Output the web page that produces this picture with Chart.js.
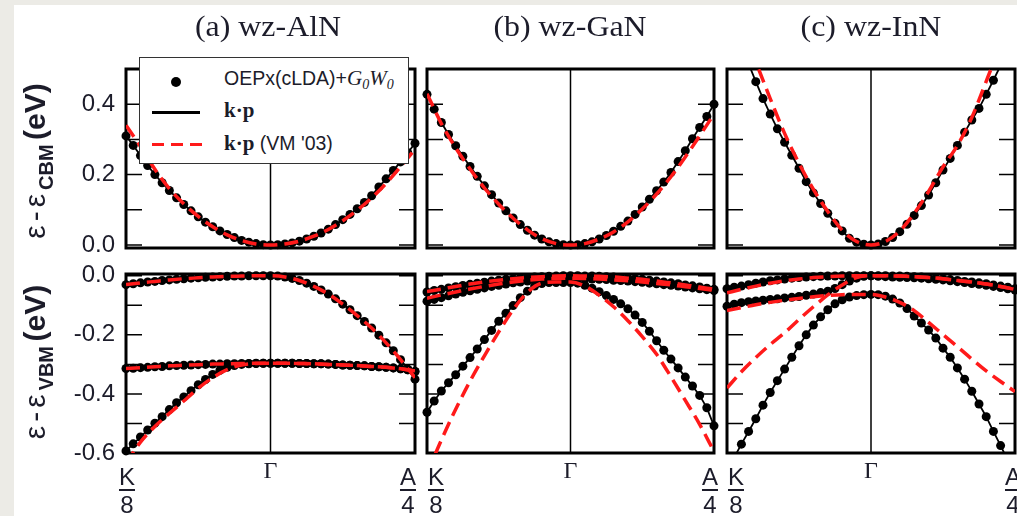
<!DOCTYPE html>
<html><head><meta charset="utf-8">
<script src="https://cdn.jsdelivr.net/npm/chart.js@4.4.1/dist/chart.umd.min.js"></script>
<style>
html,body{margin:0;padding:0}
body{width:1017px;height:516px;position:relative;overflow:hidden;background:#ecebe6}
#paper{position:absolute;left:14px;top:5px;width:1003px;height:511px;background:#fff}
canvas{position:absolute}
.ttl{position:absolute;top:8px;font-family:"Liberation Serif",serif;font-size:29px;line-height:36px;color:#1c1c2a;white-space:nowrap;transform:translateX(-50%) scaleX(1.1)}
.ytl{position:absolute;font-family:"Liberation Sans",sans-serif;color:#1c1c2a;white-space:nowrap;transform:translate(-50%,-50%) rotate(-90deg);line-height:32px}
.ytl .eps{font-size:30px;letter-spacing:4px}
.ytl sub{font-size:20px;font-weight:bold;vertical-align:-8px}
.ytl b{font-size:30px}
.xl{position:absolute;top:465px;font-family:"Liberation Sans",sans-serif;font-size:24px;line-height:24px;color:#1c1c2a;text-align:center;transform:translateX(-50%)}
.xl .bar{height:2px;background:#1c1c2a;margin:0 0 2px 0}
.xg{position:absolute;top:458px;font-family:"Liberation Serif",serif;font-size:24px;line-height:24px;color:#1c1c2a;transform:translateX(-50%)}
#legend{position:absolute;left:139px;top:57px;width:268px;height:105px;background:#fff;border:1px solid #333}
#legend div{position:absolute;white-space:nowrap}
.lg-dot{left:30.5px;top:18.5px;width:10px;height:10px;border-radius:50%;background:#000}
.lg-line{left:12px;top:53px;width:48px;height:2.5px;background:#000}
.lg-dash{left:12px;top:85px;width:50px;height:3px;background:repeating-linear-gradient(90deg,#ff1a1a 0 12px,transparent 12px 19px)}
.lg-t{left:84px;font-family:"Liberation Sans",sans-serif;font-size:19.5px;line-height:19px;color:#1c1c2a}
.kp{font-family:"Liberation Serif",serif;font-weight:bold;font-size:21px}
.gw{font-family:"Liberation Serif",serif;font-style:italic;font-size:21px}
.gw sub{font-size:14px;vertical-align:-4px}
</style></head>
<body>
<div id="paper"></div>
<div id="charts"></div>
<div class="ttl" style="left:268px">(a) wz-AlN</div>
<div class="ttl" style="left:570px">(b) wz-GaN</div>
<div class="ttl" style="left:871px">(c) wz-InN</div>
<div class="ytl" style="left:40px;top:161px"><span class="eps">ε-ε</span><sub>CBM</sub> <b>(eV)</b></div>
<div class="ytl" style="left:40px;top:362px"><span class="eps">ε-ε</span><sub>VBM</sub> <b>(eV)</b></div>
<div id="legend">
  <div class="lg-dot"></div>
  <div class="lg-line"></div>
  <div class="lg-dash"></div>
  <div class="lg-t" style="top:11px">OEPx(cLDA)+<span class="gw">G<sub>0</sub>W<sub>0</sub></span></div>
  <div class="lg-t" style="top:43px"><span class="kp">k·p</span></div>
  <div class="lg-t" style="top:76px"><span class="kp">k·p</span> (VM '03)</div>
</div>
<script>
// ---------------- data ----------------
const kDots = [-1,-0.95,-0.9,-0.85,-0.8,-0.75,-0.7,-0.65,-0.6,-0.55,-0.5,-0.45,-0.4,-0.35,-0.3,-0.25,-0.2,-0.15,-0.1,-0.05,0,0.05,0.1,0.15,0.2,0.25,0.3,0.35,0.4,0.45,0.5,0.55,0.6,0.65,0.7,0.75,0.8,0.85,0.9,0.95,1];
const kRed = [-1,-0.9,-0.8,-0.7,-0.6,-0.5,-0.4,-0.3,-0.2,-0.1,0,0.1,0.2,0.3,0.4,0.5,0.6,0.7,0.8,0.9,1];

const xTickVals = [-1, 0, 1];
const xTickTop = ['K', 'Γ', 'A'];
const xTickBottom = ['8', '', '4'];

const cbTickVals = [0, 0.2, 0.4];
const cbTickLabels = ['0.0', '0.2', '0.4'];
const cbMinorVals = [0, 0.1, 0.2, 0.3, 0.4];
const vbTickVals = [0, -0.2, -0.4, -0.6];
const vbTickLabels = ['0.0', '-0.2', '-0.4', '-0.6'];
const vbMinorVals = [0, -0.1, -0.2, -0.3, -0.4, -0.5, -0.6];

// conduction bands (OEPx(cLDA)+G0W0 dots / k.p) and VM'03 k.p
const aCB_dots = [0.310,0.283,0.254,0.226,0.200,0.177,0.155,0.134,0.115,0.097,0.080,0.065,0.052,0.040,0.030,0.021,0.013,0.008,0.004,0.001,0,0.001,0.003,0.006,0.011,0.017,0.025,0.034,0.045,0.058,0.072,0.087,0.103,0.121,0.140,0.165,0.188,0.212,0.236,0.262,0.289];
const aCB_red = [0.340,0.280,0.215,0.160,0.117,0.081,0.052,0.029,0.013,0.003,0,0.003,0.011,0.025,0.044,0.069,0.099,0.134,0.175,0.222,0.272];
const bCB_dots = [0.428,0.386,0.348,0.314,0.282,0.252,0.223,0.195,0.168,0.143,0.119,0.097,0.077,0.058,0.042,0.028,0.017,0.009,0.004,0.001,0,0.001,0.004,0.009,0.017,0.027,0.039,0.053,0.068,0.087,0.108,0.130,0.154,0.179,0.206,0.237,0.268,0.302,0.334,0.365,0.400];
const bCB_red = [0.430,0.345,0.276,0.216,0.162,0.116,0.076,0.043,0.018,0.004,0,0.004,0.017,0.037,0.066,0.102,0.145,0.194,0.250,0.310,0.372];
const cCB_dots = [0.675,0.620,0.567,0.515,0.464,0.416,0.372,0.330,0.292,0.255,0.218,0.180,0.148,0.118,0.090,0.062,0.040,0.019,0.008,0.002,0,0.003,0.010,0.021,0.038,0.059,0.084,0.112,0.142,0.177,0.213,0.246,0.283,0.320,0.355,0.388,0.428,0.468,0.510,0.555,0.600];
const cCB_red = [0.720,0.620,0.520,0.416,0.317,0.232,0.158,0.095,0.042,0.010,0,0.010,0.040,0.090,0.152,0.222,0.283,0.362,0.465,0.570,0.680];

// valence bands
const aVB1_dots = [-0.030,-0.027,-0.024,-0.021,-0.019,-0.016,-0.014,-0.012,-0.010,-0.008,-0.007,-0.005,-0.004,-0.003,-0.002,-0.001,-0.001,0,0,0,0,-0.001,-0.004,-0.009,-0.016,-0.025,-0.036,-0.048,-0.062,-0.078,-0.096,-0.115,-0.135,-0.155,-0.177,-0.201,-0.227,-0.254,-0.284,-0.316,-0.350];
const aVB2_dots = [-0.314,-0.313,-0.311,-0.310,-0.308,-0.307,-0.305,-0.304,-0.303,-0.302,-0.301,-0.300,-0.299,-0.299,-0.298,-0.298,-0.297,-0.297,-0.296,-0.296,-0.296,-0.296,-0.296,-0.296,-0.297,-0.297,-0.298,-0.298,-0.299,-0.300,-0.302,-0.303,-0.304,-0.305,-0.307,-0.308,-0.310,-0.312,-0.315,-0.318,-0.324];
const aVB3_dots = [-0.593,-0.569,-0.546,-0.522,-0.499,-0.477,-0.453,-0.430,-0.410,-0.389,-0.369,-0.351,-0.334,-0.320,-0.310,-0.304,-0.300,-0.298,-0.297,-0.296,-0.296,-0.296,-0.296,-0.296,-0.297,-0.297,-0.298,-0.298,-0.299,-0.300,-0.302,-0.303,-0.304,-0.305,-0.307,-0.308,-0.310,-0.312,-0.315,-0.318,-0.324];
const aVB1_red = [-0.030,-0.024,-0.019,-0.014,-0.010,-0.007,-0.004,-0.002,-0.001,0,0,-0.004,-0.016,-0.036,-0.062,-0.096,-0.135,-0.177,-0.227,-0.284,-0.345];
const aVB2_red = [-0.314,-0.311,-0.308,-0.305,-0.303,-0.301,-0.299,-0.298,-0.297,-0.296,-0.296,-0.296,-0.297,-0.298,-0.300,-0.302,-0.304,-0.307,-0.310,-0.315,-0.322];
const aVB3_red = [-0.635,-0.563,-0.510,-0.466,-0.424,-0.381,-0.345,-0.318,-0.302,-0.297,-0.296,-0.296,-0.297,-0.298,-0.300,-0.302,-0.304,-0.307,-0.310,-0.315,-0.322];

const bVB1_dots = [-0.055,-0.050,-0.046,-0.041,-0.037,-0.033,-0.029,-0.025,-0.022,-0.018,-0.015,-0.012,-0.010,-0.008,-0.006,-0.004,-0.003,-0.002,-0.001,0,0,0,-0.001,-0.001,-0.002,-0.003,-0.004,-0.006,-0.008,-0.010,-0.012,-0.015,-0.018,-0.021,-0.024,-0.027,-0.031,-0.034,-0.038,-0.042,-0.046];
const bVB2_dots = [-0.086,-0.080,-0.074,-0.068,-0.062,-0.056,-0.051,-0.046,-0.041,-0.036,-0.032,-0.028,-0.024,-0.021,-0.018,-0.015,-0.013,-0.011,-0.010,-0.009,-0.009,-0.009,-0.010,-0.011,-0.012,-0.013,-0.015,-0.016,-0.018,-0.020,-0.022,-0.025,-0.027,-0.030,-0.032,-0.035,-0.038,-0.041,-0.044,-0.047,-0.050];
const bVB3_dots = [-0.462,-0.424,-0.390,-0.362,-0.335,-0.306,-0.277,-0.248,-0.216,-0.185,-0.154,-0.127,-0.101,-0.074,-0.052,-0.035,-0.026,-0.023,-0.023,-0.023,-0.023,-0.025,-0.032,-0.042,-0.054,-0.067,-0.080,-0.095,-0.112,-0.133,-0.158,-0.188,-0.220,-0.252,-0.282,-0.312,-0.343,-0.373,-0.405,-0.447,-0.508];
const bVB1_red = [-0.053,-0.045,-0.036,-0.028,-0.021,-0.015,-0.010,-0.006,-0.003,-0.001,0,-0.001,-0.002,-0.004,-0.008,-0.012,-0.018,-0.024,-0.031,-0.038,-0.046];
const bVB2_red = [-0.076,-0.065,-0.055,-0.045,-0.036,-0.028,-0.021,-0.015,-0.011,-0.009,-0.008,-0.009,-0.011,-0.014,-0.017,-0.021,-0.026,-0.031,-0.037,-0.043,-0.050];
const bVB3_red = [-0.670,-0.556,-0.452,-0.357,-0.271,-0.190,-0.115,-0.056,-0.025,-0.021,-0.021,-0.035,-0.066,-0.105,-0.152,-0.206,-0.266,-0.342,-0.422,-0.503,-0.595];

const cVB1_dots = [-0.044,-0.039,-0.035,-0.030,-0.025,-0.021,-0.017,-0.014,-0.011,-0.008,-0.006,-0.004,-0.003,-0.002,-0.001,-0.001,0,0,0,0,0,0,0,-0.001,-0.001,-0.002,-0.003,-0.004,-0.006,-0.008,-0.010,-0.013,-0.016,-0.019,-0.021,-0.024,-0.027,-0.031,-0.035,-0.039,-0.044];
const cVB2_dots = [-0.103,-0.096,-0.091,-0.088,-0.085,-0.083,-0.080,-0.078,-0.075,-0.073,-0.070,-0.066,-0.062,-0.057,-0.052,-0.043,-0.030,-0.018,-0.008,-0.002,0,-0.002,-0.003,-0.004,-0.005,-0.006,-0.007,-0.008,-0.010,-0.012,-0.014,-0.017,-0.020,-0.023,-0.026,-0.029,-0.032,-0.036,-0.040,-0.044,-0.048];
const cVB3_dots = [-0.660,-0.615,-0.570,-0.527,-0.484,-0.438,-0.395,-0.355,-0.316,-0.276,-0.237,-0.200,-0.167,-0.139,-0.115,-0.095,-0.081,-0.072,-0.067,-0.064,-0.063,-0.064,-0.069,-0.079,-0.092,-0.111,-0.136,-0.160,-0.184,-0.211,-0.245,-0.276,-0.312,-0.350,-0.391,-0.434,-0.477,-0.527,-0.575,-0.625,-0.675];
const cVB1_red = [-0.058,-0.046,-0.035,-0.025,-0.017,-0.011,-0.006,-0.003,-0.001,0,0,0,-0.001,-0.003,-0.006,-0.010,-0.016,-0.021,-0.028,-0.036,-0.046];
const cVB2_red = [-0.118,-0.108,-0.098,-0.090,-0.083,-0.077,-0.071,-0.067,-0.064,-0.063,-0.063,-0.072,-0.090,-0.118,-0.158,-0.199,-0.240,-0.282,-0.322,-0.358,-0.392];
const cVB3_red = [-0.380,-0.325,-0.277,-0.233,-0.193,-0.148,-0.105,-0.065,-0.031,-0.006,0,0,-0.001,-0.003,-0.006,-0.010,-0.016,-0.021,-0.028,-0.036,-0.046];

// ---------------- layout ----------------
const CB_RANGE = [-0.0085, 0.5];
const VB_RANGE = [-0.6, 0.006];
const panels = [
  {rect:[126,415,69,248], yr:CB_RANGE, ticks:cbTickVals, tl:cbTickLabels, minor:cbMinorVals, labels:true,  dots:[aCB_dots], reds:[aCB_red]},
  {rect:[427,714,69,248], yr:CB_RANGE, ticks:cbTickVals, tl:cbTickLabels, minor:cbMinorVals, labels:false, dots:[bCB_dots], reds:[bCB_red]},
  {rect:[727,1015,69,248], yr:CB_RANGE, ticks:cbTickVals, tl:cbTickLabels, minor:cbMinorVals, labels:false, dots:[cCB_dots], reds:[cCB_red]},
  {rect:[126,415,274,453], yr:VB_RANGE, ticks:vbTickVals, tl:vbTickLabels, minor:vbMinorVals, labels:true,  dots:[aVB1_dots,aVB2_dots,aVB3_dots], reds:[aVB1_red,aVB2_red,aVB3_red], xl:[1,0,-7]},
  {rect:[427,714,274,453], yr:VB_RANGE, ticks:vbTickVals, tl:vbTickLabels, minor:vbMinorVals, labels:false, dots:[bVB1_dots,bVB2_dots,bVB3_dots], reds:[bVB1_red,bVB2_red,bVB3_red], xl:[9,0,-4]},
  {rect:[727,1015,274,453], yr:VB_RANGE, ticks:vbTickVals, tl:vbTickLabels, minor:vbMinorVals, labels:false, dots:[cVB1_dots,cVB2_dots,cVB3_dots], reds:[cVB1_red,cVB2_red,cVB3_red], xl:[9,0,-2]}
];

const framePlugin = {
  id: 'frame',
  beforeDatasetsDraw(chart, args, opts) {
    const {ctx, chartArea: a} = chart;
    const xs = chart.scales.x, ys = chart.scales.y;
    ctx.save();
    ctx.strokeStyle = '#000';
    ctx.lineWidth = 1.5;
    const gx = xs.getPixelForValue(0);
    ctx.beginPath(); ctx.moveTo(gx, a.top); ctx.lineTo(gx, a.bottom); ctx.stroke();
    ctx.beginPath();
    for (const v of opts.minor) {
      const py = ys.getPixelForValue(v);
      ctx.moveTo(a.left, py); ctx.lineTo(a.left + 16, py);
      ctx.moveTo(a.right - 16, py); ctx.lineTo(a.right, py);
    }
    ctx.stroke();
    ctx.lineWidth = 3;
    ctx.strokeRect(a.left, a.top, a.right - a.left, a.bottom - a.top);
    ctx.restore();
  }
};

function pts(xs, ys) { return xs.map((x, i) => ({x: x, y: ys[i]})); }

const PAD = 34, AXW = 76;
const host = document.getElementById('charts');

panels.forEach(p => {
  const [L, R, T, B] = p.rect;
  const padL = p.labels ? 0 : PAD;
  const axw = p.labels ? AXW : 0;
  const cv = document.createElement('canvas');
  cv.width = (R - L) + padL + PAD + axw;
  cv.height = (B - T) + 2 * PAD;
  cv.style.left = (L - axw - padL) + 'px';
  cv.style.top = (T - PAD) + 'px';
  host.appendChild(cv);

  const datasets = [];
  p.reds.forEach(arr => datasets.push({
    data: pts(kRed, arr), showLine: true, borderColor: '#ff1a1a', borderWidth: 3.5,
    borderDash: [14, 7], pointRadius: 0, cubicInterpolationMode: 'monotone', fill: false
  }));
  p.dots.forEach(arr => datasets.push({
    data: pts(kDots, arr).filter(q => q.y >= p.yr[0] - 1e-6 && q.y <= p.yr[1] + 1e-6),
    showLine: false, pointRadius: 4.5, pointBackgroundColor: '#000', pointBorderWidth: 0,
    pointBorderColor: '#000', clip: false
  }));
  p.dots.forEach(arr => datasets.push({
    data: pts(kDots, arr), showLine: true, borderColor: '#000', borderWidth: 1.8,
    pointRadius: 0, tension: 0, fill: false
  }));

  const chart = new Chart(cv, {
    type: 'line',
    data: {datasets},
    options: {
      responsive: false, animation: false, devicePixelRatio: 1, events: [],
      layout: {padding: {left: padL, right: PAD, top: PAD, bottom: PAD}},
      plugins: {legend: {display: false}, tooltip: {enabled: false}, frame: {minor: p.minor}},
      scales: {
        x: {type: 'linear', min: -1, max: 1, display: false},
        y: {
          type: 'linear', min: p.yr[0], max: p.yr[1], display: p.labels, position: 'left',
          grid: {display: false, drawTicks: false}, border: {display: false},
          ticks: {padding: 11, color: '#1c1c2a', font: {family: 'Liberation Sans', size: 24},
                  callback: (v, i) => p.tl[i]},
          afterBuildTicks: s => { s.ticks = p.ticks.map(v => ({value: v})); },
          afterFit: s => { s.width = axw; }
        }
      }
    },
    plugins: [framePlugin]
  });

  const ca = chart.chartArea;
  const offL = L - ca.left, offT = T - ca.top;
  cv.style.left = offL + 'px';
  cv.style.top = offT + 'px';

  if (p.xl) {
    xTickVals.forEach((v, i) => {
      const px = offL + chart.scales.x.getPixelForValue(v) + p.xl[i];
      const d = document.createElement('div');
      if (xTickBottom[i]) {
        d.className = 'xl';
        d.innerHTML = '<div>' + xTickTop[i] + '</div><div class="bar"></div><div>' + xTickBottom[i] + '</div>';
      } else {
        d.className = 'xg';
        d.textContent = xTickTop[i];
      }
      d.style.left = px + 'px';
      document.body.appendChild(d);
    });
  }
});
</script>
</body></html>
